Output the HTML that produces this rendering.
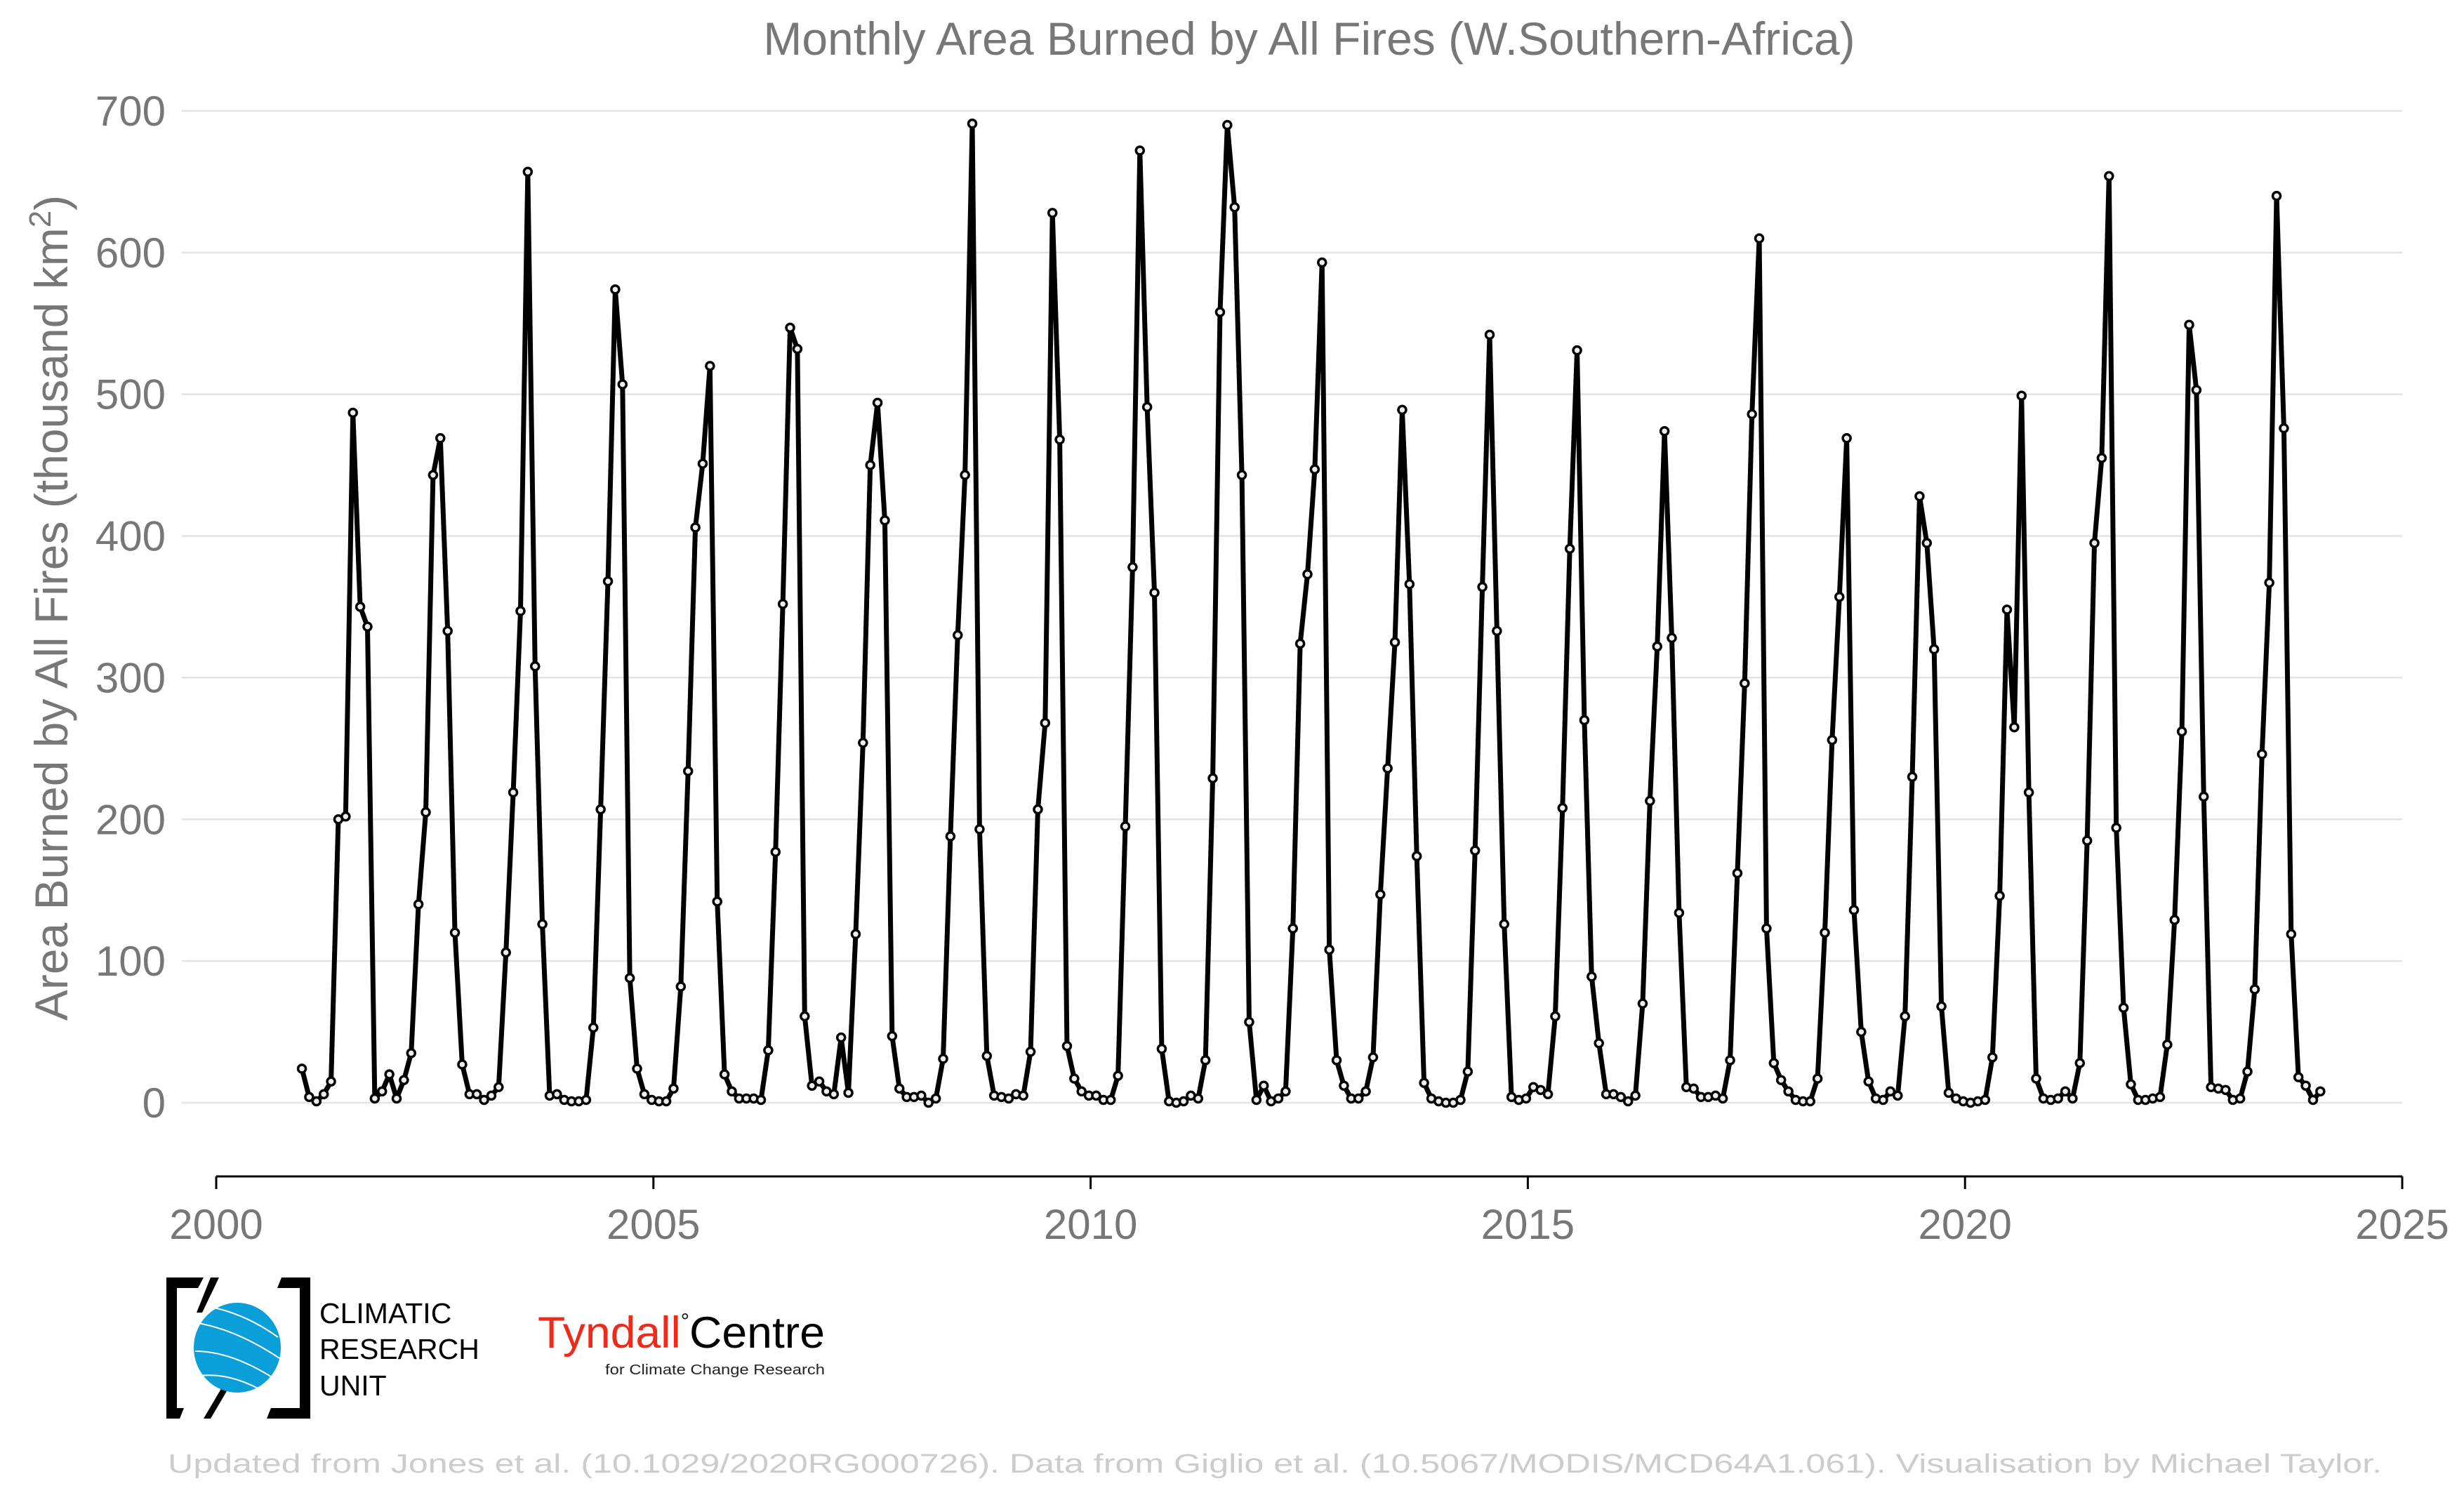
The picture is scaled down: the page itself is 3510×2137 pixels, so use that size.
<!DOCTYPE html>
<html><head><meta charset="utf-8"><style>
html,body{margin:0;padding:0;background:#fff;}
svg text{font-family:"Liberation Sans",Arial,sans-serif;}
</style></head><body>
<svg id="chart" width="3510" height="2132" viewBox="0 0 3510 2132" xmlns="http://www.w3.org/2000/svg">
<rect width="3510" height="2132" fill="#fff"/>
<text x="1865" y="78" font-size="66" fill="#777" text-anchor="middle">Monthly Area Burned by All Fires (W.Southern-Africa)</text>
<g id="grid"></g>
<g id="yticks"></g>
<text transform="translate(96,866) rotate(-90)" font-size="66" fill="#777" text-anchor="middle">Area Burned by All Fires (thousand km<tspan font-size="44" dy="-24">2</tspan><tspan dy="24">)</tspan></text>
<g id="xaxis"></g>
<g id="series"></g>
<g>
<path d="M237,1820 H290 L282,1835 H252 V2006 H262 L256,2021 H237 Z" fill="#000"/>
<path d="M442,1820 V2021 H380 L386,2006 H427 V1835 H395 L401,1820 Z" fill="#000"/>
<path d="M300,1820 H312 L288,1870 H280 Z M320,1970 L330,1970 L300,2021 L290,2021 Z" fill="#000"/>
<ellipse cx="338" cy="1920" rx="62" ry="64" fill="#0a9fd8"/>
<path d="M282,1885 Q338,1895 398,1935 M278,1925 Q330,1925 392,1965 M285,1960 Q330,1955 380,1985 M300,1862 Q350,1872 396,1905" stroke="#fff" stroke-width="2" fill="none"/>
<text font-size="41" fill="#000"><tspan x="455" y="1885">CLIMATIC</tspan><tspan x="455" y="1936">RESEARCH</tspan><tspan x="455" y="1988">UNIT</tspan></text>
</g>
<g>
<text x="766" y="1920" font-size="63" textLength="409" lengthAdjust="spacingAndGlyphs"><tspan fill="#ee2a1b">Tyndall</tspan><tspan fill="#000" font-size="30" dy="-28">°</tspan><tspan fill="#000" dy="28">Centre</tspan></text>
<text x="862" y="1958" font-size="20" fill="#222" textLength="313" lengthAdjust="spacingAndGlyphs">for Climate Change Research</text>
</g>
<text x="239" y="2098" font-size="38" fill="#ccc" textLength="3154" lengthAdjust="spacingAndGlyphs">Updated from Jones et al. (10.1029/2020RG000726). Data from Giglio et al. (10.5067/MODIS/MCD64A1.061). Visualisation by Michael Taylor.</text>
</svg>
<script>
const startYear = 2001;
const startMonth = 0;
const values = [
24,4,1,6,15,200,202,487,350,336,3,8,
20,3,16,35,140,205,443,469,333,120,27,6,
6,2,5,11,106,219,347,657,308,126,5,6,
2,1,1,2,53,207,368,574,507,88,24,6,
2,1,1,10,82,234,406,451,520,142,20,8,
3,3,3,2,37,177,352,547,532,61,12,15,
8,6,46,7,119,254,450,494,411,47,10,4,
4,5,0,3,31,188,330,443,691,193,33,5,
4,3,6,5,36,207,268,628,468,40,17,8,
5,5,2,2,19,195,378,672,491,360,38,1,
0,1,5,3,30,229,558,690,632,443,57,2,
12,1,3,8,123,324,373,447,593,108,30,12,
3,3,8,32,147,236,325,489,366,174,14,3,
1,0,0,2,22,178,364,542,333,126,4,2,
3,11,9,6,61,208,391,531,270,89,42,6,
6,4,1,5,70,213,322,474,328,134,11,10,
4,4,5,3,30,162,296,486,610,123,28,16,
8,2,1,1,17,120,256,357,469,136,50,15,
3,2,8,5,61,230,428,395,320,68,7,3,
1,0,1,2,32,146,348,265,499,219,17,3,
2,3,8,3,28,185,395,455,654,194,67,13,
2,2,3,4,41,129,262,549,503,216,11,10,
9,2,3,22,80,246,367,640,476,119,18,12,
2,8];
const yTicks = [0,100,200,300,400,500,600,700];
const xTicks = [2000,2005,2010,2015,2020,2025];

const NS = "http://www.w3.org/2000/svg";
const X0 = 308, X1 = 3422, Y0 = 1571, Y1 = 158;
function xScale(yr){ return X0 + (yr - 2000) / 25 * (X1 - X0); }
function yScale(v){ return Y0 - v / 700 * (Y0 - Y1); }
function mk(tag, attrs, parent){ const e = document.createElementNS(NS, tag); for (const k in attrs) e.setAttribute(k, attrs[k]); parent.appendChild(e); return e; }

const grid = document.getElementById('grid');
const yt = document.getElementById('yticks');
yTicks.forEach(v => {
  const l = mk('line', {x1: 259, x2: X1, y1: yScale(v), y2: yScale(v), stroke: '#e3e3e3', 'stroke-width': 2.5}, grid);
  
  
  const t = mk('text', {x: 236, y: yScale(v) + 21, 'font-size': 60, fill: '#777', 'text-anchor': 'end'}, yt);
  t.textContent = v;
  
  
});

const xa = document.getElementById('xaxis');
const axl = mk('line', {x1: X0, x2: X1, y1: 1676, y2: 1676, stroke: '#000', 'stroke-width': 3}, xa);


xTicks.forEach(yr => {
  const tk = mk('line', {x1: xScale(yr), x2: xScale(yr), y1: 1676, y2: 1694, stroke: '#000', 'stroke-width': 3}, xa);
  
  
  const t = mk('text', {x: xScale(yr), y: 1765, 'font-size': 60, fill: '#777', 'text-anchor': 'middle'}, xa);
  t.textContent = yr;
  
  
});

const s = document.getElementById('series');
const pts = values.map((v, i) => [xScale(startYear + (startMonth + i) / 12 - 0.02), yScale(v)]);
const path = mk('polyline', {points: pts.map(p => p.join(',')).join(' '), fill: 'none', stroke: '#000', 'stroke-width': 7, 'stroke-linejoin': 'round'}, s);


pts.forEach(p => {
  const c = mk('circle', {cx: p[0], cy: p[1], r: 5.5, fill: '#eee', stroke: '#000', 'stroke-width': 3.5}, s);
  
  
});
</script>
</body></html>
